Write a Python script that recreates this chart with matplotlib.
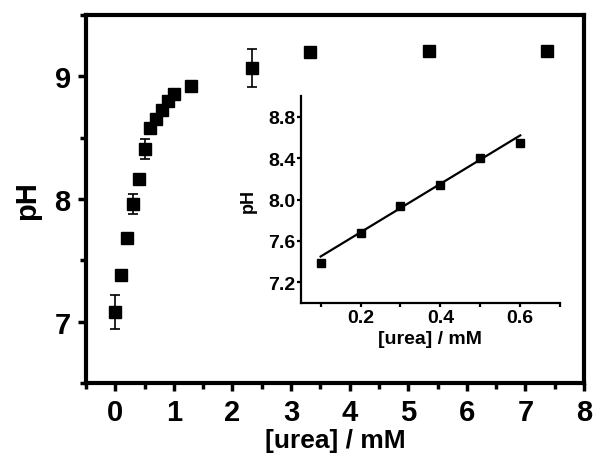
import matplotlib
matplotlib.use("Agg")
import matplotlib.pyplot as plt
from matplotlib.ticker import MultipleLocator

plt.rcParams['font.family'] = ['Liberation Sans', 'DejaVu Sans']
plt.rcParams['font.weight'] = 'bold'

# main curve: pH vs urea concentration
urea = [0.0, 0.1, 0.2, 0.3, 0.4, 0.5, 0.6, 0.7, 0.8, 0.9, 1.0, 1.3, 2.33, 3.33, 5.35, 7.37]
ph = [7.08, 7.38, 7.68, 7.96, 8.16, 8.41, 8.58, 8.65, 8.73, 8.80, 8.86, 8.92, 9.07, 9.20, 9.21, 9.21]
ph_err = [0.14, 0.0, 0.03, 0.085, 0.0, 0.08, 0.0, 0.0, 0.0, 0.0, 0.0, 0.0, 0.155, 0.0, 0.0, 0.0]

# inset: linear range
ins_urea = [0.1, 0.2, 0.3, 0.4, 0.5, 0.6]
ins_ph = [7.39, 7.68, 7.94, 8.14, 8.40, 8.55]
fit_urea = [0.1, 0.6]
fit_ph = [7.45, 8.62]

fig = plt.figure(figsize=(5.95, 4.6), dpi=100)
ax = fig.add_axes([0.1445, 0.165, 0.837, 0.800])

ax.errorbar(urea, ph, yerr=ph_err, fmt='s', color='black', ms=8,
            ecolor='black', elinewidth=1.2, capsize=3.5, capthick=1.2)
ax.set_xlim(-0.5, 8)
ax.set_ylim(6.5, 9.5)
ax.xaxis.set_major_locator(MultipleLocator(1))
ax.xaxis.set_minor_locator(MultipleLocator(0.5))
ax.yaxis.set_major_locator(MultipleLocator(1))
ax.yaxis.set_minor_locator(MultipleLocator(0.5))
for s in ax.spines.values():
    s.set_linewidth(3)
ax.tick_params(which='major', direction='out', length=6, width=2.5, labelsize=21, pad=5)
ax.tick_params(which='minor', direction='out', length=4, width=2.5)
ax.set_xlabel('[urea] / mM', fontsize=19, fontweight='bold', labelpad=1)
ax.set_ylabel('pH', fontsize=21, fontweight='bold', labelpad=10)

# inset
axi = fig.add_axes([0.5054, 0.339, 0.436, 0.45])
axi.plot(fit_urea, fit_ph, color='black', lw=1.6)
axi.plot(ins_urea, ins_ph, 's', color='black', ms=6)
axi.set_xlim(0.05, 0.7)
axi.set_ylim(7.0, 9.0)
axi.set_xticks([0.2, 0.4, 0.6])
axi.xaxis.set_minor_locator(MultipleLocator(0.1))
axi.set_yticks([7.2, 7.6, 8.0, 8.4, 8.8])
axi.spines['top'].set_visible(False)
axi.spines['right'].set_visible(False)
for side in ['left', 'bottom']:
    axi.spines[side].set_linewidth(1.6)
axi.tick_params(which='major', direction='out', length=3, width=1.6, labelsize=14, pad=1)
axi.tick_params(which='minor', direction='out', length=3, width=1.6)
axi.set_xlabel('[urea] / mM', fontsize=14, fontweight='bold', labelpad=3)
axi.set_ylabel('pH', fontsize=13, fontweight='bold', labelpad=8)

fig.savefig('out.png', dpi=100)
